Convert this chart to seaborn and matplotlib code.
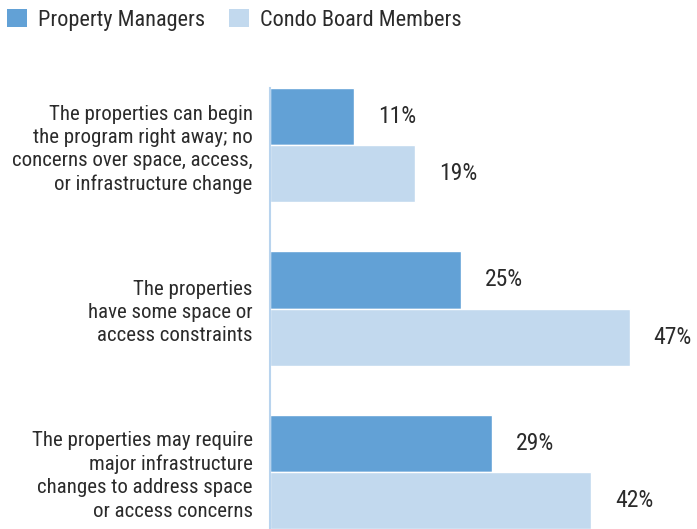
import matplotlib
matplotlib.use("Agg")
import matplotlib.pyplot as plt
from matplotlib import font_manager
from matplotlib.patches import Patch
import pandas as pd
import seaborn as sns

categories = [
    "The properties can begin\nthe program right away; no\nconcerns over space, access,\nor infrastructure change",
    "The properties\nhave some space or\naccess constraints",
    "The properties may require\nmajor infrastructure\nchanges to address space\nor access concerns",
]
groups = ["Property Managers", "Condo Board Members"]
managers = [11, 25, 29]
board = [19, 47, 42]

colors = ["#62a1d6", "#c2d9ee"]
text_col = "#2b2b2b"

sns.set_style("white")
fam = "DejaVu Sans"
for f in ["Roboto Condensed", "Liberation Sans Narrow", "Open Sans"]:
    try:
        font_manager.findfont(f, fallback_to_default=False)
        fam = f
        break
    except Exception:
        pass
plt.rcParams["font.family"] = [fam, "DejaVu Sans"]

df = pd.DataFrame({
    "cat": categories * 2,
    "group": [groups[0]] * 3 + [groups[1]] * 3,
    "val": managers + board,
})

fig = plt.figure(figsize=(6.97, 5.29), dpi=100)
ax = fig.add_axes([270 / 697, 0, 427 / 697, 1 - 88 / 529])
sns.barplot(data=df, y="cat", x="val", hue="group", palette=colors,
            orient="h", width=0.7, ax=ax, legend=False, saturation=1)

ax.set_xlim(0, 427 / 7.65)
ax.set_ylim(2.35, -0.35)
for s in ["top", "right", "bottom"]:
    ax.spines[s].set_visible(False)
ax.spines["left"].set_color("#b9d4ee")
ax.spines["left"].set_linewidth(1.5)
ax.set_xticks([])
ax.set_xlabel("")
ax.set_ylabel("")
ax.tick_params(axis="y", length=0, pad=12.5)
for t in ax.get_yticklabels():
    t.set_fontsize(15)
    t.set_color(text_col)
    t.set_linespacing(1.28)
    t.set_horizontalalignment("right")
    t.set_multialignment("right")

for cont in ax.containers:
    ax.bar_label(cont, fmt="%d%%", padding=17, fontsize=17, color=text_col,
                 fontweight="normal")

handles = [Patch(facecolor=c, edgecolor="none") for c in colors]
fig.legend(handles, groups, loc="upper left", bbox_to_anchor=(0.0, 0.996),
           ncol=2, frameon=False, fontsize=16, handlelength=0.9,
           handleheight=0.9, handletextpad=0.5, columnspacing=1.1,
           borderaxespad=0.0, borderpad=0.3, labelcolor=text_col)

fig.savefig("out.png", dpi=100)
